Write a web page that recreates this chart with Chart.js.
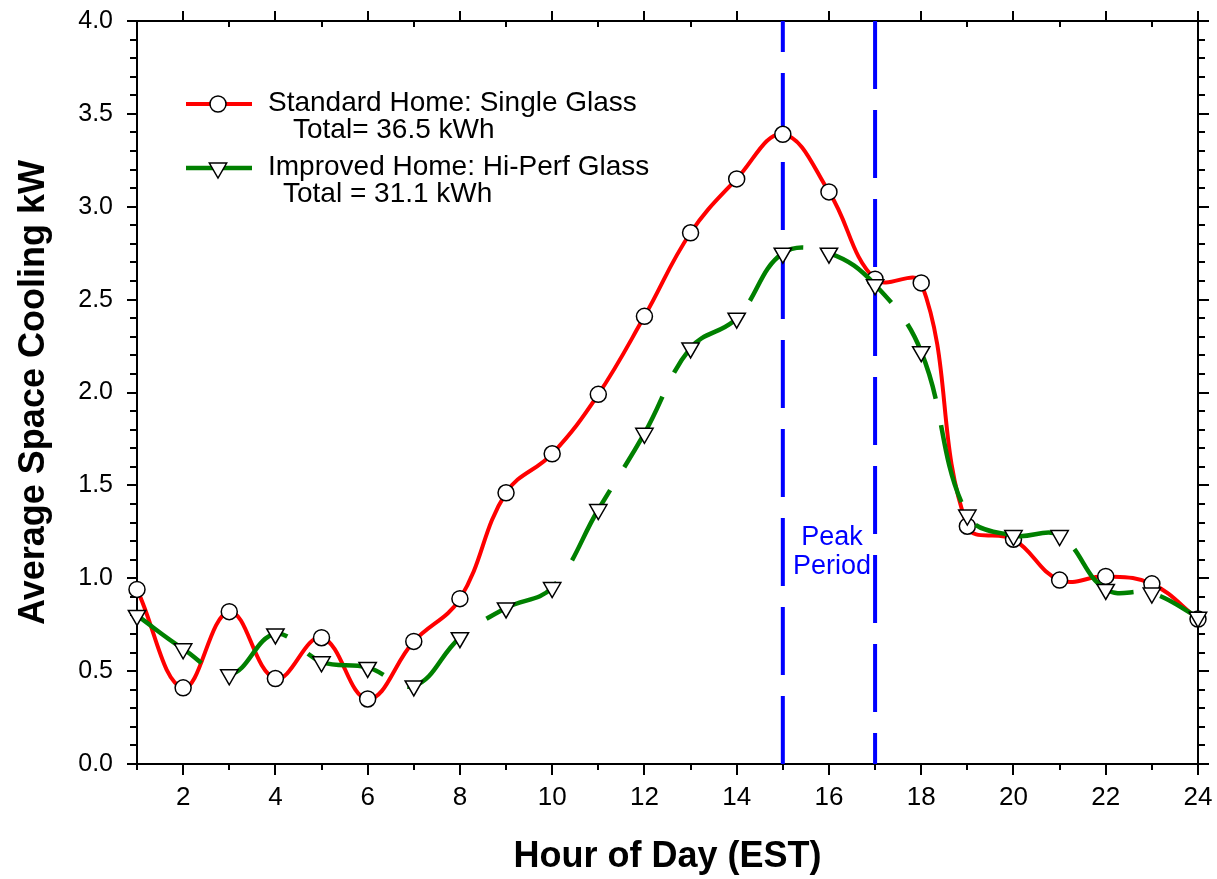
<!DOCTYPE html>
<html>
<head>
<meta charset="utf-8">
<title>Average Space Cooling by Hour</title>
<script src="https://cdn.jsdelivr.net/npm/chart.js@4/dist/chart.umd.min.js"></script>
<style>
  html, body { margin: 0; padding: 0; background: #fff; }
  canvas { display: block; }
</style>
</head>
<body>
<canvas id="cooling" width="1217" height="879"></canvas>
<script>
// hourly average space cooling load, kW
const hours = [1, 2, 3, 4, 5, 6, 7, 8, 9, 10, 11, 12, 13, 14, 15, 16, 17, 18, 19, 20, 21, 22, 23, 24];
const standardHome = [0.94, 0.41, 0.82, 0.46, 0.68, 0.35, 0.66, 0.89, 1.46, 1.67, 1.99, 2.41,
                      2.86, 3.15, 3.39, 3.08, 2.61, 2.59, 1.28, 1.21, 0.99, 1.01, 0.97, 0.78];
const improvedHome = [0.80, 0.62, 0.48, 0.70, 0.55, 0.52, 0.42, 0.68, 0.84, 0.95, 1.37, 1.78,
                      2.24, 2.40, 2.75, 2.75, 2.58, 2.22, 1.34, 1.23, 1.23, 0.94, 0.92, 0.79];
const peakBounds = [15, 17];
const hourTicks = [2, 4, 6, 8, 10, 12, 14, 16, 18, 20, 22, 24];
const kwTicks = [0, 0.5, 1, 1.5, 2, 2.5, 3, 3.5, 4];

const standardLabel = ['Standard Home: Single Glass', 'Total= 36.5 kWh'];
const improvedLabel = ['Improved Home: Hi-Perf Glass', 'Total = 31.1 kWh'];

const FONT = '"Liberation Sans", Arial, Helvetica, sans-serif';
Chart.defaults.font.family = FONT;
Chart.defaults.color = '#000';

const toPoints = vals => hours.map((h, i) => ({ x: h, y: vals[i] }));

// fixed axis box; the labels are allowed to overhang the layout padding
function pinScale(s, size) {
  if (s.isHorizontal()) s.height = size; else s.width = size;
  s.paddingTop = s.paddingBottom = s.paddingLeft = s.paddingRight = 0;
}

// axis box with outward/inward ticks on all four sides
const frame = {
  id: 'frame',
  beforeDatasetsDraw(chart) {
    const { ctx, chartArea: a, scales: { x, y } } = chart;
    ctx.save();
    ctx.strokeStyle = '#000';
    ctx.lineWidth = 2;
    ctx.beginPath();
    ctx.moveTo(a.left, a.top);
    ctx.lineTo(a.left, a.bottom + 6);
    ctx.moveTo(a.left, a.bottom);
    ctx.lineTo(a.right + 10, a.bottom);
    ctx.moveTo(a.left - 10, a.top);
    ctx.lineTo(a.right + 10, a.top);
    ctx.moveTo(a.right, a.top - 10);
    ctx.lineTo(a.right, a.bottom + 10);
    for (let h = 1; h <= 24; h++) {
      const px = Math.round(x.getPixelForValue(h));
      const major = h % 2 === 0;
      ctx.moveTo(px, a.bottom);
      ctx.lineTo(px, a.bottom + (major ? 11 : 6));
      ctx.moveTo(px, a.top);
      ctx.lineTo(px, major ? a.top - 10 : a.top + 6);
    }
    for (let t = 0; t <= 40; t++) {
      const py = Math.round(y.getPixelForValue(t / 10));
      const major = t % 5 === 0;
      ctx.moveTo(a.left, py);
      ctx.lineTo(a.left - (major ? 10 : 7), py);
      ctx.moveTo(a.right, py);
      ctx.lineTo(a.right + (major ? 11 : 7), py);
    }
    ctx.stroke();
    ctx.restore();
  }
};

function circleMark(ctx, cx, cy, r) {
  ctx.beginPath();
  ctx.arc(cx, cy, r, 0, Math.PI * 2);
  ctx.fill();
  ctx.stroke();
}

function triangleMark(ctx, cx, cy, r) {
  const w = r * Math.sin(Math.PI / 3);
  ctx.beginPath();
  ctx.moveTo(cx - w, cy - r / 2);
  ctx.lineTo(cx + w, cy - r / 2);
  ctx.lineTo(cx, cy + r);
  ctx.closePath();
  ctx.fill();
  ctx.stroke();
}

// legend inside the plot and the peak period label
const notes = {
  id: 'notes',
  afterDraw(chart) {
    const { ctx, chartArea: a, scales: { x, y } } = chart;
    ctx.save();

    ctx.fillStyle = '#0000ff';
    ctx.font = '27px ' + FONT;
    ctx.textAlign = 'center';
    ctx.textBaseline = 'alphabetic';
    const px = x.getPixelForValue((peakBounds[0] + peakBounds[1]) / 2) + 3;
    ctx.fillText('Peak', px, y.getPixelForValue(1.18));
    ctx.fillText('Period', px, y.getPixelForValue(1.025));

    const rows = [
      { color: '#ff0000', width: 4, mark: circleMark, r: 8, lines: standardLabel, dy: 83, indent: 156 },
      { color: '#008000', width: 4.5, mark: triangleMark, r: 10, lines: improvedLabel, dy: 147, indent: 146 }
    ];
    ctx.textAlign = 'left';
    for (const row of rows) {
      const ly = a.top + row.dy;
      ctx.strokeStyle = row.color;
      ctx.lineWidth = row.width;
      ctx.beginPath();
      ctx.moveTo(a.left + 49, ly);
      ctx.lineTo(a.left + 115, ly);
      ctx.stroke();
      ctx.fillStyle = '#fff';
      ctx.strokeStyle = '#000';
      ctx.lineWidth = 1.5;
      row.mark(ctx, a.left + 81, ly, row.r);
      ctx.fillStyle = '#000';
      ctx.font = '28px ' + FONT;
      ctx.fillText(row.lines[0], a.left + 131, ly + 7);
      ctx.fillText(row.lines[1], a.left + row.indent, ly + 34);
    }
    ctx.restore();
  }
};

new Chart(document.getElementById('cooling'), {
  type: 'line',
  data: {
    datasets: [
      {
        label: improvedLabel[0],
        data: toPoints(improvedHome),
        borderColor: '#008000',
        borderWidth: 4.5,
        borderDash: [80, 27],
        tension: 0.4,
        pointStyle: 'triangle',
        rotation: 180,
        pointRadius: 10,
        pointBackgroundColor: '#fff',
        pointBorderColor: '#000',
        pointBorderWidth: 1.5,
        clip: false,
        order: 0
      },
      {
        label: standardLabel[0],
        data: toPoints(standardHome),
        borderColor: '#ff0000',
        borderWidth: 4,
        tension: 0.4,
        pointStyle: 'circle',
        pointRadius: 8,
        pointBackgroundColor: '#fff',
        pointBorderColor: '#000',
        pointBorderWidth: 1.5,
        clip: false,
        order: 1
      },
      ...peakBounds.map((h, i) => ({
        label: 'Peak ' + h,
        data: [{ x: h, y: kwTicks[0] }, { x: h, y: kwTicks[kwTicks.length - 1] }],
        borderColor: '#0000ff',
        borderWidth: 4,
        borderDash: [68, 21],
        borderDashOffset: i === 0 ? 0 : 37,
        pointRadius: 0,
        tension: 0,
        order: 2
      }))
    ]
  },
  options: {
    responsive: false,
    animation: false,
    events: [],
    layout: { padding: { top: 21, right: 19, left: 0, bottom: 0 } },
    plugins: {
      legend: { display: false },
      tooltip: { enabled: false }
    },
    scales: {
      x: {
        type: 'linear',
        min: 1,
        max: 24,
        afterBuildTicks: s => { s.ticks = hourTicks.map(value => ({ value })); },
        afterFit: s => pinScale(s, 115),
        grid: { display: false, drawTicks: false },
        border: { display: false },
        ticks: { font: { size: 26 }, color: '#000', padding: 18, maxRotation: 0, autoSkip: false },
        title: {
          display: true,
          text: 'Hour of Day (EST)',
          font: { size: 36, weight: 'bold' },
          color: '#000',
          padding: { top: 0, bottom: 0 }
        }
      },
      y: {
        min: 0,
        max: 4,
        afterBuildTicks: s => { s.ticks = kwTicks.map(value => ({ value })); },
        afterFit: s => pinScale(s, 137),
        grid: { display: false, drawTicks: false },
        border: { display: false },
        ticks: { font: { size: 25 }, color: '#000', padding: 24, callback: v => v.toFixed(1) },
        title: {
          display: true,
          text: 'Average Space Cooling kW',
          font: { size: 36, weight: 'bold' },
          color: '#000',
          padding: { top: 12, bottom: 0 }
        }
      }
    }
  },
  plugins: [frame, notes]
});
</script>
</body>
</html>
